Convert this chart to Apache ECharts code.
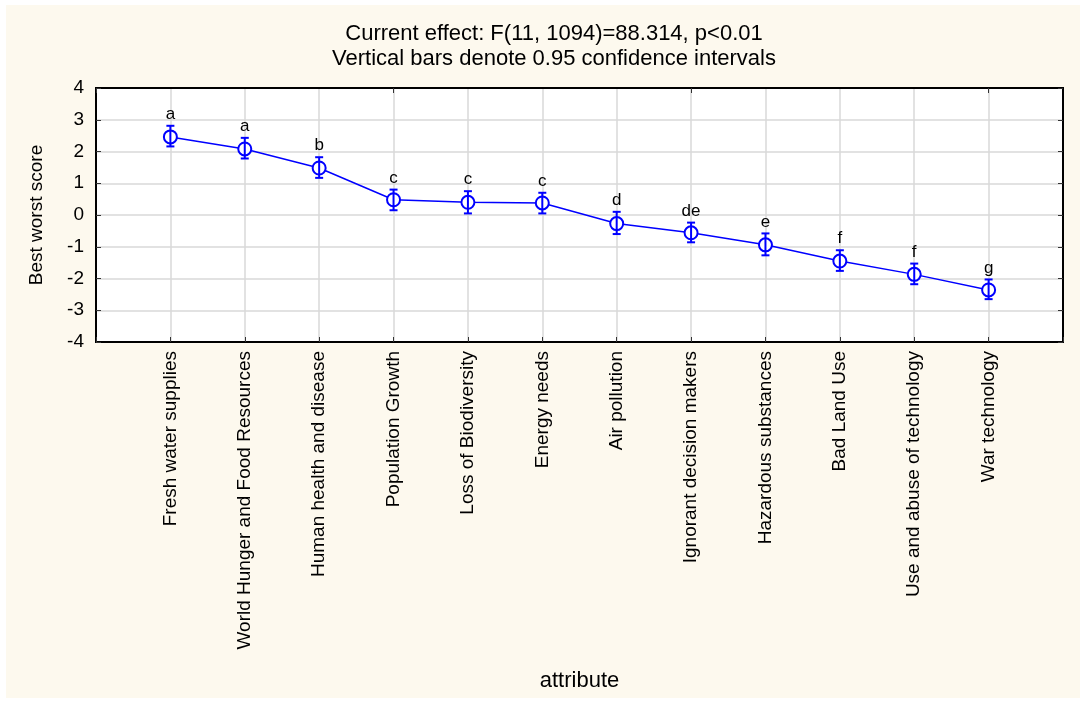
<!DOCTYPE html>
<html>
<head>
<meta charset="utf-8">
<title>Best worst score by attribute</title>
<script src="https://cdn.jsdelivr.net/npm/echarts@6/dist/echarts.min.js"></script>
<style>
  html, body { margin: 0; padding: 0; background: #fff; }
  #chart { width: 1083px; height: 702px; }
</style>
</head>
<body>
<div id="chart"></div>
<script>
// data
var attributes = ['Fresh water supplies', 'World Hunger and Food Resources', 'Human health and disease',
    'Population Growth', 'Loss of Biodiversity', 'Energy needs', 'Air pollution',
    'Ignorant decision makers', 'Hazardous substances', 'Bad Land Use',
    'Use and abuse of technology', 'War technology'];
var means  = [2.46, 2.08, 1.48, 0.48, 0.40, 0.38, -0.27, -0.56, -0.94, -1.45, -1.87, -2.36];
var ciLow  = [2.16, 1.78, 1.17, 0.15, 0.05, 0.05, -0.60, -0.86, -1.27, -1.76, -2.18, -2.65];
var ciHigh = [2.81, 2.43, 1.82, 0.80, 0.75, 0.70, 0.10, -0.24, -0.58, -1.11, -1.53, -2.03];
var groups = ['a', 'a', 'b', 'c', 'c', 'c', 'd', 'de', 'e', 'f', 'f', 'g'];
var yMin = -4, yMax = 4, yStep = 1;

// empty slot on each side, like the original plot
var slots = [''].concat(attributes, ['']);

var blue = '#0000ff';
var myChart = echarts.init(document.getElementById('chart'));

var option = {
    backgroundColor: '#fff',
    animation: false,
    textStyle: { fontFamily: 'Liberation Sans, Arial, sans-serif', color: '#000' },
    title: {
        text: 'Current effect: F(11, 1094)=88.314, p<0.01\nVertical bars denote 0.95 confidence intervals',
        left: 549,
        textAlign: 'center',
        top: 16,
        textStyle: { fontSize: 22, fontWeight: 'normal', lineHeight: 25, color: '#000' }
    },
    graphic: [{
        type: 'rect',
        z: -100,
        silent: true,
        shape: { x: 6, y: 5, width: 1074, height: 693 },
        style: { fill: '#fdf9ee' }
    }],
    grid: {
        left: 96, right: 20, top: 88, bottom: 360,
        show: true,
        backgroundColor: '#fff',
        borderColor: '#000',
        borderWidth: 2
    },
    xAxis: [{
        type: 'category',
        data: slots,
        boundaryGap: false,
        name: 'attribute',
        nameLocation: 'middle',
        nameGap: 328,
        nameTextStyle: { fontSize: 22, color: '#000' },
        axisLine: { onZero: false, lineStyle: { color: '#000', width: 2 } },
        axisTick: { inside: true, length: 5, lineStyle: { color: '#333' } },
        axisLabel: { rotate: 90, fontSize: 19, color: '#000', margin: 9, interval: 0 },
        splitLine: { show: true, lineStyle: { color: '#d8d8d8', width: 1.5 } }
    }, {
        type: 'category',
        data: slots,
        boundaryGap: false,
        position: 'top',
        axisLine: { onZero: false, lineStyle: { color: '#000', width: 2 } },
        axisTick: { inside: true, length: 5, lineStyle: { color: '#333' } },
        axisLabel: { show: false },
        splitLine: { show: false }
    }],
    yAxis: [{
        type: 'value',
        min: yMin, max: yMax, interval: yStep,
        name: 'Best worst score',
        nameLocation: 'middle',
        nameGap: 50,
        nameTextStyle: { fontSize: 19, color: '#000' },
        axisLine: { show: true, onZero: false, lineStyle: { color: '#000', width: 2 } },
        axisTick: { show: true, inside: true, length: 5, lineStyle: { color: '#333' } },
        axisLabel: { fontSize: 19, color: '#000', margin: 12 },
        splitLine: { show: true, lineStyle: { color: '#d8d8d8', width: 1.5 } }
    }, {
        type: 'value',
        min: yMin, max: yMax, interval: yStep,
        position: 'right',
        axisLine: { show: true, onZero: false, lineStyle: { color: '#000', width: 2 } },
        axisTick: { show: true, inside: true, length: 5, lineStyle: { color: '#333' } },
        axisLabel: { show: false },
        splitLine: { show: false }
    }],
    series: [{
        type: 'line',
        data: attributes.map(function (a, i) { return [a, means[i]]; }),
        symbol: 'emptyCircle',
        symbolSize: 13,
        lineStyle: { color: blue, width: 1.5 },
        itemStyle: { color: blue, borderWidth: 1.8 },
        z: 3
    }, {
        type: 'custom',
        z: 4,
        data: attributes.map(function (a, i) { return [i + 1, ciLow[i], ciHigh[i], groups[i]]; }),
        renderItem: function (params, api) {
            var x = api.value(0);
            var lo = api.coord([x, api.value(1)]);
            var hi = api.coord([x, api.value(2)]);
            var cap = 4;
            var st = { stroke: blue, lineWidth: 2 };
            return {
                type: 'group',
                children: [
                    { type: 'line', shape: { x1: lo[0], y1: lo[1], x2: hi[0], y2: hi[1] }, style: st },
                    { type: 'line', shape: { x1: hi[0] - cap, y1: hi[1], x2: hi[0] + cap, y2: hi[1] }, style: st },
                    { type: 'line', shape: { x1: lo[0] - cap, y1: lo[1], x2: lo[0] + cap, y2: lo[1] }, style: st },
                    { type: 'text', x: hi[0], y: hi[1] - 3,
                      style: { text: groups[params.dataIndex], fill: '#000', fontSize: 17,
                               fontFamily: 'Liberation Sans, Arial, sans-serif',
                               align: 'center', verticalAlign: 'bottom' } }
                ]
            };
        }
    }]
};

myChart.setOption(option);
</script>
</body>
</html>
